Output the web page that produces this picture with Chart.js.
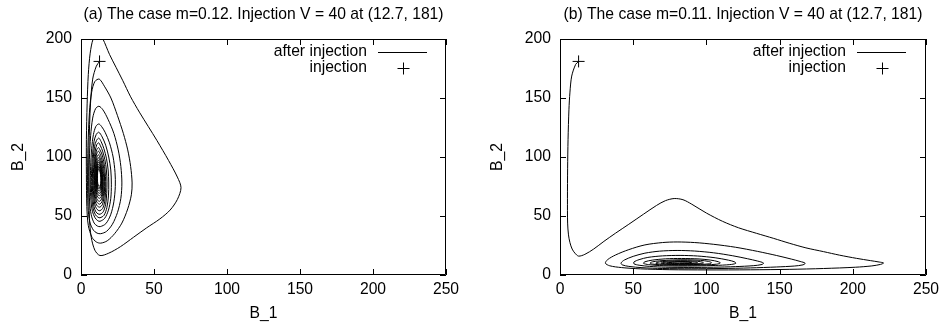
<!DOCTYPE html>
<html>
<head>
<meta charset="utf-8">
<script src="https://cdn.jsdelivr.net/npm/chart.js@4/dist/chart.umd.min.js"></script>
<style>
  html, body { margin: 0; padding: 0; background: #fff; width: 947px; height: 326px; overflow: hidden; }
  canvas { position: absolute; top: 0; }
  #c1 { left: 0; }
  #c2 { left: 479px; }
</style>
</head>
<body>
<canvas id="c1" width="479" height="326"></canvas>
<canvas id="c2" width="468" height="326"></canvas>
<script>
// ---------- data ----------
const xTicks = [0, 50, 100, 150, 200, 250];
const yTicks = [0, 50, 100, 150, 200];
const titleA = "(a) The case m=0.12. Injection V = 40 at (12.7, 181)";
const titleB = "(b) The case m=0.11. Injection V = 40 at (12.7, 181)";
const xLabel = "B_1";
const yLabel = "B_2";
const seriesNames = ["after injection", "injection"];
const injectionB1 = [12.7];
const injectionB2 = [181];

// panel (a): trajectory after injection, m = 0.12
const leftB1 = [
 12.7,10.5,8,6.5,5.5,5.3,5.8,7,9.5,13,19,27,36,45,54,61,66,68.5,66,60,52,46,40,34,28.5,24,19.5,15,11.5,8.3,6.3,5,4.2,3.7,3.7,4,5,7.5,10.5,13.5,
 18,23,28,32,34.5,35,34,32,29,25,20.5,16,12.5,
 9.5,7.3,5.8,4.8,4.5,4.8,6,8.5,11,13.5,
 17.5,21.5,25,27.3,28,27.3,25.5,22.5,18.5,15,12.3,
 10,8,6.6,5.7,5.5,5.9,7,9,11.2,13.2,
 17,20.3,22.5,23.5,23.3,22,19.5,16.5,14,12.2,
 10.2,8.5,7.3,6.6,6.4,6.8,7.8,9.6,11.5,13,
 16.2,18.8,20.4,20.8,20.4,19,16.9,14.5,12.2,
 10.4,8.9,7.9,7.3,7.1,7.5,8.4,9.9,11.6,13,
 15.7,17.7,18.8,19,18.6,17.4,15.7,13.8,12.2,
 10.6,9.3,8.4,7.9,7.8,8.1,8.9,10.2,11.7,13,
 15.2,16.9,17.6,17.8,17.4,16.3,14.8,13.3,12.1,
 10.8,9.7,8.9,8.5,8.4,8.7,9.4,10.5,11.8,13,
 14.9,16.2,16.8,16.9,16.5,15.6,14.3,13,12,
 10.9,10,9.3,9,8.9,9.2,9.8,10.8,11.9,13,
 14.6,15.6,16.1,16.2,15.9,15.1,14,12.9,12,
 11,10.2,9.6,9.3,9.3,9.6,10.2,11,12,12.9,
 14.3,15.2,15.6,15.7,15.4,14.7,13.8,12.8,12,
 11.1,10.4,9.9,9.7,9.7,10,10.5,11.2,12.1,12.9,
 14.1,14.8,15.1,15.2,14.9,14.4,13.6,12.7,12,
 11.2,10.6,10.2,10,10,10.3,10.8,11.4,12.2,12.9,
 13.9,14.5,14.8,14.8,14.6,14.1,13.4,12.6,12,
 11.3,10.8,10.4,10.3,10.3,10.6,11,11.6,12.3,12.9,
 13.7,14.2,14.5,14.5,14.3,13.9,13.3,12.6,12,
 11.4,10.9,10.6,10.5,10.5,10.8,11.2,11.8,12.9,
 13.6,14,14.2,14.2,14,13.7,13.2,12.5,12,
 11.5,11.1,10.8,10.7,10.7,11,11.4,12,12.8,
 13.4,13.8,14,14,13.8,13.5,13,12.5,12,
 11.6,11.2,11,10.9,10.9,11.1,11.5,12,12.7,
 13.3,13.6,13.8,13.8,13.6,13.3,12.9,12.4,12,
 11.6,11.3,11.1,11.1,11.1,11.3,11.6,12.1,12.7,
 13.2,13.5,13.6,13.6,13.4,13.1,12.8,12.3,12,
 11.7,11.4,11.3,11.3,11.3,11.5,11.8,12.2,12.7
];
const leftB2 = [
 181,177,166,145,110,75,48,32,21,16.5,18.5,24,32,40,47.5,55,64,74,83,97,114,126,138,151,165,176,187,200,206,200,188,170,145,115,85,58,42,32,28,27,
 29,35,44,56,68,78,92,106,120,135,150,160,166,
 164,155,138,110,80,58,45,38,35.5,35,
 37,43,53,65,78,92,106,120,132,140,143,
 141,133,118,98,78,62,51,44,41.5,41,
 43.5,51,62,75,87,100,112,121,126,128,
 126,119,107,92,77,63,54,48.5,46,45.5,
 48,55,65,77,89,100,110,117,121,
 119,113,102,89,76,64,56,51,49,48.5,
 50.5,57,67,78,89,99,107,113,116,
 114,109,99,88,76,66,58,53.5,51.8,51.5,
 53.5,60,69,79,89,98,105,109.5,112,
 110.5,105,96,86,76,67,60,56.5,54.8,54.5,
 56.5,62,70,79,88,96,102.5,106,108,
 106.5,102,94,85,76,68,62,59,57.8,57.5,
 59.5,64.5,71,79,87,94,99.5,103,105,
 103.5,99.5,92,84,76,69,64,61.5,60.4,60,
 62,66.5,72,79,86,92,97,100,102,
 100.5,97,90.5,83,76,70.5,66,63.5,62.7,62.5,
 64.5,68.5,73,79,85,90.5,95,98,99.5,
 98,94.5,89,82.5,76.5,71.5,68,66,65.2,65,
 66.5,70,74.5,79.5,85,89.5,93.5,96,97.3,
 96,92.5,88,82,77,72.5,69.5,68,67.4,67.2,
 68.5,71.5,75.5,80,85,89,92.5,94.5,95.5,
 94.5,91,87,82,77.5,73.5,71,69.7,69.3,
 70.5,73,76.5,80.5,85,88.5,91.5,93,94,
 93,90,86,82,78,74.5,72.5,71.4,71.2,
 72.5,75,78,81.5,85,88,90.3,91.6,92.3,
 91.5,89,85.5,82,78.5,75.5,73.8,73,72.9,
 74,76.5,79,82,85,87.5,89.3,90.4,91,
 90.3,88,85,82,79,76.5,75,74.3,74.2,
 75.3,77.5,80,82.5,85,87,88.5,89.4,89.8,
 89.2,87.2,84.5,82,79.5,77.5,76.2,75.6,75.5
];

// panel (b): trajectory after injection, m = 0.11
const rightB1 = [
 12.7,10.7,8,6.8,6.1,5.5,5.2,5.1,5.2,5.8,6.8,8.3,10.2,12.7,17,23,30,38,47,57,66,72,78,84,90,100,111,122,134.3,146,157,168,180,191,202.6,212,218,221,219,213,202,180,157,130,100,75,55,42,34,31,
 32.5,38,47,58,70,80,92,105,120,135,148,158,164,167.5,166,160,148,130,110,90,70,56,47,42.5,41.7,
 44,50,58,68,80,92,105,118,128,135,139,138,132,120,105,88,72,61,54,50.5,50.5,
 54,60,70,82,94,106,115,119.5,120,116,106,94,80,68,60.5,57,
 58,63,72,83,95,103,108,109.5,107,100,90,78,68,63,61.5,
 63,68,77,87,96,101.5,103.5,102,96,86,76,69,65.5,
 66,70,78,87,94,97.5,98,95,87,78,72,69,
 71,78,86,92,94,92,85,78,73,74,80,87,90,88,82
];
const rightB2 = [
 181,178.5,168.6,155,140,115,90,65,44,34,27.4,22,18.5,16,17.5,22,28.5,35.5,43,51.5,59,63,64.8,63.8,60,52.5,45.5,40,35.3,31,26.8,23,19.8,16.8,14.1,12.2,11,10.2,9,7.7,6.6,5.5,4.8,4.4,4.3,4.5,5.2,6.3,7.8,10,
 13,17,21.5,25.5,27.5,28,27.5,26,23.5,20,16.5,13.5,11.5,10,8.6,7.6,6.8,6,5.5,5.3,5.5,6.2,7.3,8.6,10.2,
 12.7,15.8,18.5,20.2,20.8,20.3,18.8,16.3,13.8,11.8,10.2,8.9,7.9,7.1,6.6,6.4,6.6,7.3,8.3,9.5,11,
 13,14.9,16.2,16.6,16.1,14.6,12.6,11,9.8,8.8,8.1,7.7,7.6,8,8.8,9.9,
 11.2,12.6,13.7,14,13.6,12.6,11.3,10.2,9.2,8.6,8.3,8.3,8.7,9.3,10.1,
 11.1,12,12.7,12.9,12.4,11.5,10.4,9.5,9,8.8,8.9,9.3,9.8,
 10.6,11.4,12,12.1,11.6,10.8,10.1,9.6,9.3,9.3,9.6,10,
 10.7,11.3,11.4,11,10.4,9.9,9.7,9.7,10,10.5,10.9,10.9,10.4,10.1,10
];

// ---------- drawing ----------
const FONT = 'Liberation Sans, Arial, Helvetica, sans-serif';
const FSIZE = 15.7;
Chart.defaults.font.family = FONT;
Chart.defaults.font.size = FSIZE;
Chart.defaults.color = '#000';

const frameAndLegend = {
  id: 'frameAndLegend',
  afterDatasetsDraw(chart) {
    const { ctx, chartArea: a, scales } = chart;
    const xs = scales.x, ys = scales.y;
    const TL = 6;
    ctx.save();
    ctx.strokeStyle = '#000';
    ctx.lineWidth = 1;
    ctx.beginPath();
    ctx.rect(Math.round(a.left) + 0.5, Math.round(a.top) + 0.5,
             Math.round(a.right - a.left) - 1, Math.round(a.bottom - a.top) - 1);
    ctx.stroke();
    ctx.beginPath();
    xs.ticks.forEach(t => {
      const px = Math.round(xs.getPixelForValue(t.value)) + 0.5;
      ctx.moveTo(px, a.bottom); ctx.lineTo(px, a.bottom - TL);
      ctx.moveTo(px, a.top); ctx.lineTo(px, a.top + TL);
    });
    ys.ticks.forEach(t => {
      const py = Math.round(ys.getPixelForValue(t.value)) + 0.5;
      ctx.moveTo(a.left, py); ctx.lineTo(a.left + TL, py);
      ctx.moveTo(a.right, py); ctx.lineTo(a.right - TL, py);
    });
    ctx.stroke();

    // legend (gnuplot style: right-aligned text, sample to the right)
    ctx.fillStyle = '#000';
    ctx.font = FSIZE + 'px ' + FONT;
    ctx.textAlign = 'right';
    ctx.textBaseline = 'middle';
    const tx = a.left + 286;
    const y1 = a.top + 12.5, y2 = a.top + 28.5;
    ctx.fillText(seriesNames[0], tx, y1);
    ctx.fillText(seriesNames[1], tx, y2);
    ctx.beginPath();
    ctx.moveTo(a.left + 297, Math.round(y1) + 0.5);
    ctx.lineTo(a.left + 346, Math.round(y1) + 0.5);
    const cx = Math.round(a.left + 322) + 0.5, cy = Math.round(y2) + 0.5;
    ctx.moveTo(cx - 6, cy); ctx.lineTo(cx + 6, cy);
    ctx.moveTo(cx, cy - 6); ctx.lineTo(cx, cy + 6);
    ctx.stroke();
    ctx.restore();
  }
};

function makeChart(id, title, b1, b2, rightPad) {
  const pts = b1.map((v, i) => ({ x: v, y: b2[i] }));
  const inj = injectionB1.map((v, i) => ({ x: v, y: injectionB2[i] }));
  return new Chart(document.getElementById(id), {
    type: 'scatter',
    data: {
      datasets: [
        {
          label: seriesNames[0], data: pts, showLine: true,
          borderColor: '#000', borderWidth: 1, pointRadius: 0,
          tension: 0.3, fill: false
        },
        {
          label: seriesNames[1], data: inj, showLine: false,
          pointStyle: 'cross', pointRadius: 6, borderColor: '#000',
          borderWidth: 1, backgroundColor: '#000'
        }
      ]
    },
    options: {
      responsive: false,
      animation: false,
      devicePixelRatio: 1,
      layout: { padding: { left: 0, right: rightPad, top: 0, bottom: 0 } },
      plugins: {
        legend: { display: false },
        tooltip: { enabled: false },
        title: {
          display: true, text: title, fullSize: false, color: '#000',
          font: { size: FSIZE, weight: 'normal', family: FONT },
          padding: { top: 5.6, bottom: 14.56 }
        }
      },
      scales: {
        x: {
          type: 'linear', min: 0, max: 250,
          afterBuildTicks: s => { s.ticks = xTicks.map(v => ({ value: v })); },
          ticks: { padding: 5, color: '#000', font: { size: FSIZE } },
          grid: { display: false, drawTicks: false },
          border: { display: false },
          title: { display: true, text: xLabel, color: '#000', font: { size: FSIZE }, padding: { top: 0, bottom: 3 } },
          afterFit: s => { s.height = 51; }
        },
        y: {
          type: 'linear', min: 0, max: 200,
          afterBuildTicks: s => { s.ticks = yTicks.map(v => ({ value: v })); },
          ticks: { padding: 9, color: '#000', font: { size: FSIZE } },
          grid: { display: false, drawTicks: false },
          border: { display: false },
          title: { display: true, text: yLabel, color: '#000', font: { size: FSIZE }, padding: { top: 9, bottom: 0 } },
          afterFit: s => { s.width = 81; }
        }
      }
    },
    plugins: [frameAndLegend]
  });
}

makeChart('c1', titleA, leftB1, leftB2, 33);
makeChart('c2', titleB, rightB1, rightB2, 21);
</script>
</body>
</html>
